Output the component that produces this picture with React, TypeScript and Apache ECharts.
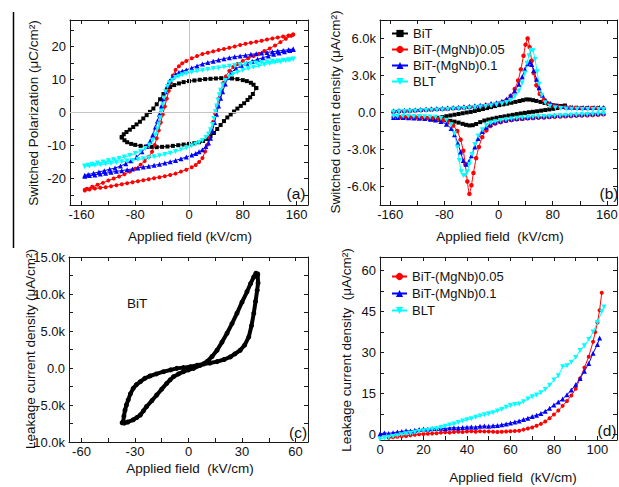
import React, { useEffect, useRef } from "react";
import * as echarts from "echarts";

const FONT = '"Liberation Sans", Arial, Helvetica, sans-serif';

// ---------- Panel (a): P-E loops (kV/cm, uC/cm2) ----------
const aBlackUp: number[][] = [[100,7.4],[96,8.4],[92,9.0],[86,9.5],[80,9.8],[72,10.1],[64,10.3],[56,10.4],[48,10.4],[40,10.3],[32,10.2],[24,10.1],[16,9.9],[8,9.7],[0,9.5],[-8,9.2],[-15,8.8],[-22,8.3],[-28,7.7],[-33,6.8],[-38,5.6],[-43,4.0],[-48,2.5],[-53,1.2],[-58,0.2],[-63,-0.8],[-68,-1.8],[-73,-2.8],[-78,-3.6],[-83,-4.4],[-88,-5.2],[-93,-5.9],[-97,-6.6],[-100,-7.4]];
const aBlackLow: number[][] = [[-100,-7.6],[-96,-8.4],[-92,-9.0],[-86,-9.5],[-80,-9.8],[-72,-10.1],[-64,-10.3],[-56,-10.4],[-48,-10.5],[-40,-10.4],[-32,-10.3],[-24,-10.1],[-16,-9.9],[-8,-9.7],[0,-9.5],[8,-9.3],[15,-9.0],[21,-8.6],[27,-8.0],[32,-7.2],[37,-6.2],[42,-5.0],[47,-3.8],[52,-2.6],[57,-1.5],[62,-0.6],[67,0.3],[72,1.2],[77,2.0],[82,2.8],[87,3.8],[91,4.6],[95,5.6],[100,7.4]];
const aRedUp: number[][] = [[155,23.6],[148,23.3],[140,23.0],[132,22.7],[124,22.4],[116,22.1],[108,21.7],[100,21.4],[92,21.1],[84,20.8],[76,20.4],[68,20.0],[60,19.6],[52,19.2],[44,18.9],[36,18.5],[28,18.1],[20,17.7],[12,17.1],[4,16.4],[-4,15.6],[-10,14.9],[-15,14.0],[-20,12.9],[-24,11.2],[-27,9.0],[-30,6.6],[-33,4.2],[-36,1.8],[-39,-0.6],[-42,-3.0],[-45,-5.4],[-48,-7.8],[-51,-9.8],[-55,-11.9],[-60,-13.4],[-66,-14.7],[-72,-15.8],[-80,-17.0],[-88,-17.9],[-96,-18.7],[-104,-19.4],[-112,-20.0],[-120,-20.6],[-128,-21.3],[-136,-21.9],[-144,-22.5],[-152,-23.1],[-155,-23.4]];
const aRedLow: number[][] = [[-155,-23.6],[-148,-23.3],[-140,-23.0],[-132,-22.8],[-124,-22.6],[-116,-22.3],[-108,-22.0],[-100,-21.7],[-92,-21.4],[-84,-21.1],[-76,-20.8],[-68,-20.5],[-60,-20.2],[-52,-19.9],[-44,-19.6],[-36,-19.3],[-28,-18.9],[-20,-18.5],[-12,-17.9],[-4,-17.3],[4,-16.6],[10,-15.9],[15,-15.0],[20,-13.8],[24,-11.8],[27,-9.8],[30,-7.6],[33,-5.2],[36,-2.8],[39,-0.4],[42,2.0],[45,4.4],[48,6.8],[51,8.9],[55,11.0],[60,12.6],[66,13.8],[72,14.7],[80,15.6],[88,16.4],[96,17.1],[104,17.8],[112,18.6],[120,19.4],[128,20.3],[136,21.3],[144,22.3],[152,23.2],[155,23.6]];
const aBlueUp: number[][] = [[155,19.2],[148,19.0],[140,18.8],[132,18.6],[124,18.4],[116,18.2],[108,18.0],[100,17.8],[92,17.6],[84,17.3],[76,17.1],[68,16.9],[60,16.6],[52,16.3],[44,15.9],[36,15.5],[28,15.1],[20,14.7],[12,14.1],[4,13.5],[-4,12.9],[-10,12.5],[-15,12.1],[-20,11.6],[-25,10.6],[-29,9.5],[-32,8.2],[-35,6.3],[-38,4.2],[-41,2.0],[-44,-0.5],[-47,-2.6],[-50,-4.4],[-54,-6.8],[-58,-8.7],[-63,-10.3],[-70,-11.9],[-78,-13.5],[-86,-14.6],[-94,-15.5],[-102,-16.2],[-110,-16.8],[-118,-17.2],[-126,-17.6],[-134,-18.0],[-142,-18.4],[-150,-18.8],[-155,-19.0]];
const aBlueLow: number[][] = [[-155,-19.3],[-148,-19.1],[-140,-18.9],[-132,-18.6],[-124,-18.4],[-116,-18.1],[-108,-17.8],[-100,-17.6],[-92,-17.3],[-84,-17.1],[-76,-16.8],[-68,-16.5],[-60,-16.3],[-52,-16.0],[-44,-15.7],[-36,-15.3],[-28,-14.9],[-20,-14.5],[-12,-14.0],[-4,-13.5],[4,-12.9],[10,-12.4],[15,-11.9],[20,-11.3],[25,-10.3],[29,-9.2],[32,-7.8],[35,-5.6],[38,-3.0],[41,-0.5],[44,2.0],[47,4.3],[50,6.3],[54,8.6],[58,10.6],[63,12.2],[70,13.3],[78,14.2],[86,14.9],[94,15.5],[102,16.1],[110,16.6],[118,17.1],[126,17.6],[134,18.0],[142,18.4],[150,18.8],[155,19.1]];
const aCyanUp: number[][] = [[155,16.2],[148,16.0],[140,15.8],[132,15.6],[124,15.5],[116,15.3],[108,15.1],[100,15.0],[92,14.8],[84,14.6],[76,14.4],[68,14.2],[60,14.0],[52,13.8],[44,13.5],[36,13.3],[28,13.0],[20,12.8],[12,12.5],[4,12.2],[-4,11.8],[-10,11.4],[-15,11.0],[-20,10.6],[-25,9.8],[-29,9.0],[-32,7.9],[-35,6.3],[-37,4.4],[-39,2.3],[-41,0.4],[-43,-1.6],[-45,-3.5],[-47,-5.0],[-50,-6.8],[-54,-8.5],[-59,-9.8],[-65,-10.9],[-72,-11.7],[-80,-12.4],[-88,-13.0],[-96,-13.5],[-104,-13.9],[-112,-14.3],[-120,-14.6],[-128,-15.0],[-136,-15.3],[-144,-15.7],[-150,-16.0],[-155,-16.2]];
const aCyanLow: number[][] = [[-155,-16.4],[-148,-16.2],[-140,-16.0],[-132,-15.8],[-124,-15.6],[-116,-15.4],[-108,-15.1],[-100,-14.9],[-92,-14.7],[-84,-14.5],[-76,-14.2],[-68,-14.0],[-60,-13.7],[-52,-13.4],[-44,-13.1],[-36,-12.7],[-28,-12.3],[-20,-11.8],[-12,-11.3],[-4,-10.7],[4,-10.1],[10,-9.6],[15,-9.1],[20,-8.5],[25,-7.6],[29,-6.5],[32,-5.2],[35,-3.6],[37,-1.8],[39,0.2],[41,2.0],[43,3.8],[45,5.4],[47,6.7],[50,8.3],[54,9.7],[59,10.8],[65,11.6],[72,12.2],[80,12.8],[88,13.3],[96,13.7],[104,14.1],[112,14.5],[120,14.8],[128,15.1],[136,15.4],[144,15.7],[150,15.9],[155,16.1]];

// ---------- Panel (b): switching current (k uA/cm2) ----------
const bBlackDec: number[][] = [[98,0.55],[93,0.45],[87,0.36],[81,0.3],[75,0.25],[69,0.2],[63,0.15],[57,0.1],[51,0.06],[45,0.02],[39,-0.03],[33,-0.08],[27,-0.13],[21,-0.19],[15,-0.25],[9,-0.31],[3,-0.37],[-3,-0.43],[-9,-0.5],[-15,-0.57],[-21,-0.65],[-27,-0.78],[-33,-0.93],[-38,-1.03],[-43,-1.05],[-48,-1.0],[-53,-0.92],[-59,-0.82],[-65,-0.74],[-71,-0.68],[-77,-0.63],[-83,-0.6],[-89,-0.58],[-95,-0.57],[-100,-0.57]];
const bBlackInc: number[][] = [[-95,-0.5],[-89,-0.43],[-83,-0.37],[-77,-0.3],[-71,-0.24],[-65,-0.18],[-59,-0.12],[-53,-0.06],[-47,0.0],[-41,0.05],[-35,0.12],[-29,0.2],[-23,0.28],[-17,0.36],[-11,0.44],[-5,0.52],[1,0.6],[7,0.66],[13,0.72],[19,0.79],[25,0.86],[31,0.93],[36,1.0],[41,1.06],[46,1.05],[51,1.0],[56,0.94],[62,0.86],[68,0.77],[74,0.68],[80,0.6],[86,0.55],[92,0.53],[98,0.55]];
const bRedDec: number[][] = [[155,-0.15],[147,-0.18],[139,-0.2],[131,-0.22],[123,-0.25],[115,-0.27],[107,-0.29],[99,-0.31],[91,-0.33],[83,-0.35],[75,-0.37],[67,-0.4],[59,-0.42],[51,-0.45],[43,-0.48],[35,-0.52],[27,-0.56],[19,-0.62],[11,-0.68],[3,-0.78],[-5,-0.9],[-12,-1.1],[-18,-1.45],[-24,-2.0],[-29,-2.8],[-33,-3.7],[-37,-4.9],[-40,-5.9],[-43,-6.6],[-46,-5.6],[-49,-4.2],[-52,-3.1],[-56,-2.2],[-61,-1.5],[-67,-1.05],[-74,-0.8],[-82,-0.62],[-90,-0.53],[-98,-0.47],[-106,-0.44],[-114,-0.42],[-122,-0.41],[-130,-0.4],[-138,-0.39],[-146,-0.38],[-155,-0.38]];
const bRedInc: number[][] = [[-155,0.05],[-147,0.08],[-139,0.1],[-131,0.13],[-123,0.15],[-115,0.18],[-107,0.2],[-99,0.22],[-91,0.25],[-83,0.27],[-75,0.3],[-67,0.32],[-59,0.35],[-51,0.38],[-43,0.42],[-35,0.46],[-27,0.5],[-19,0.56],[-11,0.62],[-3,0.7],[5,0.82],[12,1.0],[18,1.35],[24,1.9],[29,2.6],[33,3.5],[37,4.6],[40,5.5],[43,6.0],[46,5.3],[49,4.2],[52,3.2],[56,2.2],[61,1.5],[67,1.0],[74,0.72],[82,0.55],[90,0.46],[98,0.42],[106,0.4],[114,0.38],[122,0.37],[130,0.36],[138,0.36],[146,0.36],[155,0.35]];
const bBlueDec: number[][] = [[155,-0.05],[147,-0.08],[139,-0.1],[131,-0.12],[123,-0.15],[115,-0.17],[107,-0.19],[99,-0.21],[91,-0.23],[83,-0.25],[75,-0.28],[67,-0.3],[59,-0.33],[51,-0.36],[43,-0.4],[35,-0.44],[27,-0.48],[19,-0.53],[11,-0.6],[3,-0.68],[-5,-0.8],[-12,-0.98],[-18,-1.2],[-24,-1.55],[-30,-2.1],[-35,-2.8],[-40,-3.5],[-44,-4.0],[-48,-4.2],[-52,-3.9],[-56,-3.2],[-60,-2.5],[-65,-1.8],[-70,-1.3],[-77,-0.95],[-85,-0.72],[-93,-0.6],[-101,-0.53],[-109,-0.49],[-117,-0.46],[-125,-0.44],[-133,-0.42],[-141,-0.41],[-149,-0.4],[-155,-0.4]];
const bBlueInc: number[][] = [[-155,0.15],[-147,0.17],[-139,0.19],[-131,0.21],[-123,0.23],[-115,0.25],[-107,0.28],[-99,0.3],[-91,0.32],[-83,0.35],[-75,0.37],[-67,0.4],[-59,0.43],[-51,0.46],[-43,0.5],[-35,0.54],[-27,0.59],[-19,0.65],[-11,0.72],[-3,0.8],[5,0.92],[12,1.1],[18,1.35],[24,1.75],[30,2.3],[35,2.9],[39,3.5],[43,3.95],[46,4.1],[49,3.9],[52,3.4],[56,2.7],[60,2.0],[65,1.4],[70,1.0],[77,0.72],[85,0.56],[93,0.48],[101,0.44],[109,0.42],[117,0.41],[125,0.4],[133,0.4],[141,0.4],[149,0.4],[155,0.4]];
const bCyanDec: number[][] = [[155,-0.1],[147,-0.12],[139,-0.14],[131,-0.16],[123,-0.18],[115,-0.2],[107,-0.22],[99,-0.24],[91,-0.26],[83,-0.28],[75,-0.3],[67,-0.32],[59,-0.34],[51,-0.37],[43,-0.4],[35,-0.43],[27,-0.47],[19,-0.52],[11,-0.58],[3,-0.65],[-5,-0.74],[-12,-0.86],[-18,-1.05],[-24,-1.4],[-30,-1.9],[-35,-2.6],[-39,-3.4],[-43,-4.2],[-46,-4.8],[-49,-5.1],[-52,-5.1],[-55,-4.8],[-58,-3.9],[-61,-2.8],[-65,-1.7],[-70,-1.0],[-77,-0.62],[-85,-0.46],[-93,-0.39],[-101,-0.36],[-109,-0.34],[-117,-0.33],[-125,-0.32],[-133,-0.31],[-141,-0.3],[-149,-0.3],[-155,-0.3]];
const bCyanInc: number[][] = [[-155,0.05],[-147,0.07],[-139,0.09],[-131,0.11],[-123,0.13],[-115,0.15],[-107,0.17],[-99,0.19],[-91,0.21],[-83,0.23],[-75,0.25],[-67,0.28],[-59,0.3],[-51,0.33],[-43,0.36],[-35,0.4],[-27,0.44],[-19,0.49],[-11,0.55],[-3,0.62],[5,0.7],[12,0.82],[18,1.0],[24,1.3],[30,1.75],[35,2.4],[39,3.2],[42,4.0],[45,4.6],[48,5.05],[51,5.0],[54,4.3],[57,3.3],[60,2.3],[64,1.4],[69,0.8],[76,0.5],[84,0.38],[92,0.32],[100,0.29],[108,0.27],[116,0.26],[124,0.25],[132,0.25],[140,0.25],[148,0.25],[155,0.25]];

// ---------- Panel (c): BiT leakage loop (k uA/cm2) ----------
const cDesc: number[][] = [[38.8,12.6],[39,11.5],[38.5,10.5],[37.6,9],[36.6,7.4],[35.3,5.7],[33.8,4.2],[31.5,3.1],[29,2.4],[26,1.9],[23.5,1.5],[20,1.15],[16,0.86],[12,0.68],[8.4,0.54],[5,0.38],[1,0.18],[-3,0.05],[-6.6,-0.05],[-10,-0.25],[-14,-0.5],[-18,-0.8],[-21.6,-1.08],[-24.5,-1.4],[-27,-1.85],[-29.2,-2.25],[-31,-2.75],[-32.6,-3.5],[-33.8,-4.3],[-34.8,-5.0],[-35.6,-5.7],[-36.2,-6.5],[-36.6,-7.25],[-37.2,-7.4]];
const cAsc: number[][] = [[-36,-7.45],[-34,-7.3],[-31,-7.0],[-29,-6.7],[-27,-6.35],[-25.3,-5.8],[-23.5,-5.2],[-20.5,-4.4],[-17.8,-3.65],[-15,-2.85],[-12.2,-2.07],[-10.3,-1.6],[-8.4,-1.17],[-5.6,-0.8],[-2.8,-0.5],[0,-0.25],[2.8,-0.05],[6.5,0.35],[10.3,0.86],[13.2,1.55],[16,2.4],[18.8,3.5],[21.6,4.7],[24.4,6.0],[27.2,7.4],[30,8.9],[32.8,10.3],[34.8,11.4],[36.6,12.3],[37.8,12.8],[38.8,12.7]];

// ---------- Panel (d): leakage vs field (uA/cm2) ----------
const dRed: number[][] = [[4,-1.2],[6,-1.0],[8,-0.8],[10,-0.6],[12,-0.5],[14,-0.3],[16,-0.1],[18,0.1],[20,0.2],[22,0.3],[24,0.4],[26,0.5],[28,0.7],[30,0.8],[32,0.7],[34,0.9],[36,1.0],[38,0.9],[40,1.1],[42,1.2],[44,1.0],[46,1.2],[48,1.1],[50,1.1],[52,1.0],[54,0.9],[56,1.0],[58,1.1],[60,1.2],[62,1.3],[64,1.4],[66,1.8],[68,2.2],[70,2.6],[72,3.2],[74,3.9],[76,4.8],[78,6.0],[80,7.3],[82,8.8],[84,10.5],[86,12.3],[88,14.3],[90,16.8],[92,20.5],[94,24.5],[96,28.5],[98,34.0],[99,37.5],[100,41.0],[101,45.5],[102,51.9]];
const dBlue: number[][] = [[0,0.2],[2,0.6],[4,0.4],[6,0.7],[8,0.9],[10,1.1],[12,1.4],[14,1.3],[16,1.6],[18,1.8],[20,2.0],[22,1.9],[24,2.1],[26,2.2],[28,2.3],[30,2.2],[32,2.4],[34,2.5],[36,2.4],[38,2.6],[40,2.7],[42,2.8],[44,2.7],[46,3.0],[48,3.1],[50,3.0],[52,3.2],[54,3.3],[56,3.6],[58,3.9],[60,4.2],[62,4.6],[64,5.0],[66,5.5],[68,6.0],[70,6.6],[72,7.1],[74,7.7],[76,8.5],[78,9.6],[80,10.8],[82,11.9],[84,13.0],[86,14.6],[88,16.3],[90,18.2],[92,20.5],[94,23.2],[96,26.0],[98,29.8],[100,33.0],[101,35.3]];
const dCyan: number[][] = [[0,-1.6],[2,-1.3],[4,-1.0],[6,-0.7],[8,-0.4],[10,-0.1],[12,0.3],[14,0.5],[16,0.8],[18,1.1],[20,1.4],[22,1.6],[24,1.9],[26,2.1],[28,2.6],[30,3.0],[32,3.5],[34,3.9],[36,4.4],[38,5.0],[40,5.4],[42,5.8],[44,6.3],[46,6.8],[48,7.2],[50,7.6],[52,8.0],[54,8.6],[56,9.2],[58,10.0],[60,10.6],[62,11.0],[64,11.2],[66,12.0],[68,13.0],[70,13.8],[72,14.5],[74,15.3],[76,16.5],[78,18.0],[80,20.0],[82,21.5],[84,24.8],[86,25.2],[88,26.5],[90,28.2],[92,30.8],[94,32.5],[96,34.8],[98,37.5],[100,41.0],[102,45.0],[103,46.7]];

// ---------- Axes ticks / labels ----------
const xTicksAB = [-160, -120, -80, -40, 0, 40, 80, 120, 160];
const xLabelsAB = [-160, -80, 0, 80, 160];
const yTicksA = [-25, -20, -15, -10, -5, 0, 5, 10, 15, 20, 25];
const yLabelsA = [-20, -10, 0, 10, 20];
const yTicksB = [-7.5, -6, -4.5, -3, -1.5, 0, 1.5, 3, 4.5, 6, 7.5];
const yLabelsB = [-6, -3, 0, 3, 6];
const xTicksC = [-60, -45, -30, -15, 0, 15, 30, 45, 60];
const xLabelsC = [-60, -30, 0, 30, 60];
const yTicksC = [-10, -7.5, -5, -2.5, 0, 2.5, 5, 7.5, 10, 12.5, 15];
const yLabelsC = [-10, -5, 0, 5, 10, 15];
const xTicksD = [0, 10, 20, 30, 40, 50, 60, 70, 80, 90, 100];
const xLabelsD = [0, 20, 40, 60, 80, 100];
const yTicksD = [0, 7.5, 15, 22.5, 30, 37.5, 45, 52.5, 60];
const yLabelsD = [0, 15, 30, 45, 60];

const legendB = ["BiT", "BiT-(MgNb)0.05", "BiT-(MgNb)0.1", "BLT"];
const legendD = ["BiT-(MgNb)0.05", "BiT-(MgNb)0.1", "BLT"];

const BLACK = "#000000";
const RED = "#ff0000";
const BLUE = "#0000ff";
const CYAN = "#00ffff";

const plain = (v: number) => String(v);
const kfmt = (v: number) => (v === 0 ? "0.0" : v.toFixed(1) + "k");

function axis(kind: "x" | "y", gridIndex: number, min: number, max: number, ticks: number[], labels: number[] | null, fmt: (v: number) => string) {
  const mirror = labels === null;
  return {
    type: "value",
    gridIndex,
    min,
    max,
    position: kind === "x" ? (mirror ? "top" : "bottom") : mirror ? "right" : "left",
    axisLine: { show: true, onZero: false, lineStyle: { color: "#1a1a1a", width: 1 } },
    axisTick: { show: true, inside: true, length: 4, customValues: ticks, lineStyle: { color: "#1a1a1a", width: 1 } },
    axisLabel: mirror
      ? { show: false }
      : { show: true, customValues: labels, formatter: fmt, color: "#111", fontSize: 13, fontFamily: FONT, margin: kind === "x" ? 3 : 4 },
    splitLine: { show: false },
    minorTick: { show: false },
    silent: true,
  };
}

// each grid g owns xAxis/yAxis 2g (bottom/left, labelled) and 2g+1 (top/right mirror)
function line(name: string, data: number[][], color: string, symbol: string, size: number, grid: number, extra: any = {}) {
  return {
    type: "line",
    name,
    data,
    xAxisIndex: grid * 2,
    yAxisIndex: grid * 2,
    symbol,
    symbolSize: size,
    showSymbol: true,
    showAllSymbol: true,
    lineStyle: { color, width: 1 },
    itemStyle: { color, borderWidth: 0 },
    emphasis: { disabled: true },
    animation: false,
    ...extra,
  };
}

function txt(text: string, x: number, y: number, size: number, rotate = false) {
  return {
    type: "text",
    x,
    y,
    rotation: rotate ? Math.PI / 2 : 0,
    silent: true,
    style: {
      text,
      fill: "#111",
      fontSize: size,
      fontFamily: FONT,
      align: "center",
      verticalAlign: "middle",
      textAlign: "center",
      textVerticalAlign: "middle",
    },
  };
}

const legendCommon = {
  orient: "vertical",
  padding: 0,
  itemHeight: 9,
  selectedMode: false,
  textStyle: { fontSize: 13, color: "#111", fontFamily: FONT },
};

const option: any = {
  animation: false,
  backgroundColor: "#ffffff",
  textStyle: { fontFamily: FONT },
  grid: [
    { left: 70, top: 20, width: 238, height: 185, outerBoundsMode: "none" },
    { left: 380, top: 20, width: 237, height: 185, outerBoundsMode: "none" },
    { left: 69, top: 257, width: 239, height: 185, outerBoundsMode: "none" },
    { left: 380, top: 257, width: 237, height: 183, outerBoundsMode: "none" },
  ],
  xAxis: [
    axis("x", 0, -177, 177, xTicksAB, xLabelsAB, plain),
    axis("x", 0, -177, 177, xTicksAB, null, plain),
    axis("x", 1, -175, 175, xTicksAB, xLabelsAB, plain),
    axis("x", 1, -175, 175, xTicksAB, null, plain),
    axis("x", 2, -67, 67, xTicksC, xLabelsC, plain),
    axis("x", 2, -67, 67, xTicksC, null, plain),
    axis("x", 3, 0, 109, xTicksD, xLabelsD, plain),
    axis("x", 3, 0, 109, xTicksD, null, plain),
  ],
  yAxis: [
    axis("y", 0, -28, 28, yTicksA, yLabelsA, plain),
    axis("y", 0, -28, 28, yTicksA, null, plain),
    axis("y", 1, -7.5, 7.5, yTicksB, yLabelsB, kfmt),
    axis("y", 1, -7.5, 7.5, yTicksB, null, kfmt),
    axis("y", 2, -10, 15, yTicksC, yLabelsC, kfmt),
    axis("y", 2, -10, 15, yTicksC, null, kfmt),
    axis("y", 3, -2, 65, yTicksD, yLabelsD, plain),
    axis("y", 3, -2, 65, yTicksD, null, plain),
  ],
  legend: [
    { ...legendCommon, data: legendB, left: 391, top: 27, itemWidth: 16, itemGap: 3 },
    { ...legendCommon, data: legendD, left: 391, top: 270, itemWidth: 15, itemGap: 4 },
  ],
  series: [
    // (a)
    line("a-BiT", [...aBlackUp, ...aBlackLow], BLACK, "rect", 4, 0, {
      markLine: {
        silent: true,
        symbol: ["none", "none"],
        label: { show: false },
        lineStyle: { color: "#c4c4c4", width: 1, type: "solid" },
        data: [{ xAxis: 0 }, { yAxis: 0 }],
        animation: false,
      },
    }),
    line("a-BiT-(MgNb)0.05", [...aRedUp, ...aRedLow], RED, "circle", 4, 0),
    line("a-BiT-(MgNb)0.1", [...aBlueUp, ...aBlueLow], BLUE, "triangle", 5, 0),
    line("a-BLT", [...aCyanUp, ...aCyanLow], CYAN, "triangle", 5, 0, { symbolRotate: 180 }),
    // (b)
    line("BiT", [...bBlackDec, ...bBlackInc], BLACK, "rect", 4, 1),
    line("BiT-(MgNb)0.05", [...bRedDec, ...bRedInc], RED, "circle", 4.5, 1, { smooth: 0.2 }),
    line("BiT-(MgNb)0.1", [...bBlueDec, ...bBlueInc], BLUE, "triangle", 5, 1, { smooth: 0.2 }),
    line("BLT", [...bCyanDec, ...bCyanInc], CYAN, "triangle", 5, 1, { symbolRotate: 180, smooth: 0.2 }),
    // (c)
    line("c-BiT", [...cDesc, ...cAsc], BLACK, "circle", 5, 2, { lineStyle: { color: BLACK, width: 4 } }),
    // (d)
    line("BiT-(MgNb)0.05", dRed, RED, "circle", 4, 3),
    line("BiT-(MgNb)0.1", dBlue, BLUE, "triangle", 5, 3),
    line("BLT", dCyan, CYAN, "triangle", 5, 3, { symbolRotate: 180 }),
  ],
  graphic: [
    { type: "line", silent: true, shape: { x1: 13.5, y1: 12, x2: 13.5, y2: 248 }, style: { stroke: "#000", lineWidth: 1.5 } },
    txt("Applied field (kV/cm)", 190, 236, 13.5),
    txt("Applied field  (kV/cm)", 500, 236, 13.5),
    txt("Applied field  (kV/cm)", 190, 468, 13.5),
    txt("Applied field  (kV/cm)", 513, 477, 13.5),
    txt("Switched Polarization (μC/cm²)", 33, 113, 13.5, true),
    txt("Switched current density (μA/cm²)", 335, 112, 13.5, true),
    txt("Leakage current density (μA/cm²)", 30, 349, 13.5, true),
    txt("Leakage current density  (μA/cm²)", 346, 350, 13.5, true),
    txt("(a)", 296, 193, 15.5),
    txt("(b)", 609, 193, 15.5),
    txt("(c)", 298, 432, 15.5),
    txt("(d)", 607, 430, 15.5),
    txt("BiT", 137, 303, 13.5),
  ],
};

export default function App() {
  const ref = useRef<HTMLDivElement>(null);
  useEffect(() => {
    if (!ref.current) return;
    const chart = echarts.init(ref.current, null, { renderer: "svg" });
    chart.setOption(option);
    return () => chart.dispose();
  }, []);
  return (
    <div
      ref={ref}
      style={{ position: "fixed", left: 0, top: 0, width: 619, height: 487, background: "#fff" }}
    />
  );
}
